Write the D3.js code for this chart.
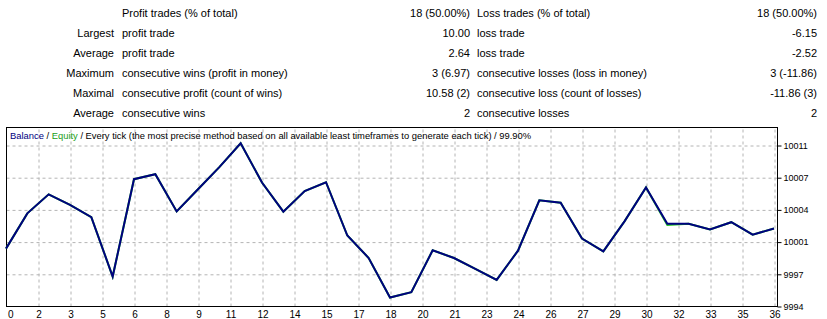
<!DOCTYPE html>
<html>
<head>
<meta charset="utf-8">
<script src="https://cdn.jsdelivr.net/npm/d3@7"></script>
<style>
  body { margin: 0; background: #fff; }
  svg { display: block; font-family: 'Liberation Sans', Arial, sans-serif; }
</style>
</head>
<body>
<svg id="chart" width="827" height="319"></svg>
<script>
// Summary table
var profitLabels = ['', 'Largest', 'Average', 'Maximum', 'Maximal', 'Average'];
var profitNames = ['Profit trades (% of total)', 'profit trade', 'profit trade',
  'consecutive wins (profit in money)', 'consecutive profit (count of wins)', 'consecutive wins'];
var profitValues = ['18 (50.00%)', '10.00', '2.64', '3 (6.97)', '10.58 (2)', '2'];
var lossNames = ['Loss trades (% of total)', 'loss trade', 'loss trade',
  'consecutive losses (loss in money)', 'consecutive loss (count of losses)', 'consecutive losses'];
var lossValues = ['18 (50.00%)', '-6.15', '-2.52', '3 (-11.86)', '-11.86 (3)', '2'];

// Balance per trade (0..36)
var balance = [10000.06, 10003.78, 10005.79, 10004.68, 10003.38, 9997.11, 10007.39, 10007.92,
  10003.99, 10006.33, 10008.66, 10011.18, 10007.04, 10003.96, 10006.14, 10007.07, 10001.44,
  9999.07, 9994.9, 9995.46, 9999.88, 9999.07, 9997.93, 9996.76, 9999.84, 10005.16, 10004.91,
  10001.12, 9999.77, 10002.96, 10006.51, 10002.68, 10002.68, 10002.08, 10002.85, 10001.54, 10002.18];
var equity = [10000.06, 10003.78, 10005.79, 10004.68, 10003.38, 9997.11, 10007.39, 10007.92,
  10003.99, 10006.33, 10008.66, 10011.18, 10007.04, 10003.96, 10006.14, 10007.07, 10001.44,
  9999.07, 9994.9, 9995.46, 9999.88, 9999.07, 9997.93, 9996.76, 9999.84, 10005.16, 10004.91,
  10001.12, 9999.77, 10002.96, 10006.51, 10002.55, 10002.68, 10002.08, 10002.85, 10001.54, 10002.18];

// Axis ticks
var xTicks = [0, 1.5, 3, 4.5, 6, 7.5, 9, 10.5, 12, 13.5, 15, 16.5, 18, 19.5, 21, 22.5, 24,
  25.5, 27, 28.5, 30, 31.5, 33, 34.5, 36];
var xTickLabels = ['0', '2', '3', '5', '6', '8', '9', '11', '12', '14', '15', '17', '18', '20',
  '21', '23', '24', '26', '27', '29', '30', '32', '33', '35', '36'];
var yTicks = [9994, 9997.4, 10000.8, 10004.2, 10007.6, 10011];
var yTickLabels = ['9994', '9997', '10001', '10004', '10007', '10011'];

var svg = d3.select('#chart');

// Table
var table = svg.append('g').attr('font-size', '11px').attr('fill', '#000');
function column(values, cx, anchor) {
  table.selectAll(null)
    .data(values)
    .enter().append('text')
    .attr('x', cx)
    .attr('y', function(d, i) { return 17 + i * 20; })
    .attr('text-anchor', anchor)
    .text(function(d) { return d; });
}
column(profitLabels, 114, 'end');
column(profitNames, 122, 'start');
column(profitValues, 470, 'end');
column(lossNames, 477, 'start');
column(lossValues, 817, 'end');

// Chart
var plot = {left: 6, right: 777, top: 127, bottom: 306};
var x = d3.scaleLinear().domain([0, 36]).range([6, 774]);
var y = d3.scaleLinear().domain([9994, 10011]).range([306, 145]);

var g = svg.append('g').attr('transform', 'translate(0.5, 0.5)');

// Grid (gridlines from the axes' own ticks)
g.append('g')
  .attr('transform', 'translate(0, ' + plot.bottom + ')')
  .call(d3.axisBottom(x).tickValues(xTicks.slice(1)).tickSize(plot.top - plot.bottom).tickFormat(''))
  .call(function(s) { s.select('.domain').remove(); })
  .selectAll('line')
  .attr('stroke', '#b4b4b4')
  .attr('stroke-dasharray', '3,3');

g.append('g')
  .attr('transform', 'translate(' + plot.left + ', 0)')
  .call(d3.axisRight(y).tickValues(yTicks.slice(1)).tickSize(plot.right - plot.left).tickFormat(''))
  .call(function(s) { s.select('.domain').remove(); })
  .selectAll('line')
  .attr('stroke', '#b4b4b4')
  .attr('stroke-dasharray', '3,3');

// X axis labels
var xAxis = d3.axisBottom(x)
  .tickValues(xTicks)
  .tickSize(0)
  .tickPadding(4)
  .tickFormat(function(d, i) { return xTickLabels[i]; });
var xg = g.append('g')
  .attr('transform', 'translate(0, ' + plot.bottom + ')')
  .call(xAxis);
xg.select('.domain').remove();
xg.selectAll('text').attr('font-size', '10px').attr('font-family', null).attr('fill', '#000');
xg.select('.tick text').attr('text-anchor', 'start').attr('x', 1);

// Y axis on the right
var yAxis = d3.axisRight(y)
  .tickValues(yTicks)
  .tickSize(4)
  .tickPadding(2)
  .tickFormat(function(d, i) { return yTickLabels[i]; });
var yg = g.append('g')
  .attr('transform', 'translate(' + plot.right + ', 0)')
  .call(yAxis);
yg.select('.domain').remove();
yg.selectAll('line').attr('stroke', '#000');
yg.selectAll('text').attr('font-size', '9px').attr('font-family', null).attr('fill', '#000');

// Lines
var line = d3.line()
  .x(function(d, i) { return x(i); })
  .y(function(d) { return y(d); });

svg.append('path')
  .datum(equity)
  .attr('fill', 'none')
  .attr('stroke', '#22c322')
  .attr('stroke-width', 2)
  .attr('d', line);

svg.append('path')
  .datum(balance)
  .attr('fill', 'none')
  .attr('stroke', '#000080')
  .attr('stroke-width', 2)
  .attr('d', line);

// Frame
g.append('rect')
  .attr('x', plot.left)
  .attr('y', plot.top)
  .attr('width', plot.right - plot.left)
  .attr('height', plot.bottom - plot.top)
  .attr('fill', 'none')
  .attr('stroke', '#000');

// Header
var header = svg.append('text')
  .attr('x', 10)
  .attr('y', 139)
  .attr('font-size', '9.4px');
header.append('tspan').attr('fill', '#000080').text('Balance');
header.append('tspan').attr('fill', '#000').text(' / ');
header.append('tspan').attr('fill', '#1a9e1a').text('Equity');
header.append('tspan').attr('fill', '#000')
  .text(' / Every tick (the most precise method based on all available least timeframes to generate each tick) / 99.90%');
</script>
</body>
</html>
